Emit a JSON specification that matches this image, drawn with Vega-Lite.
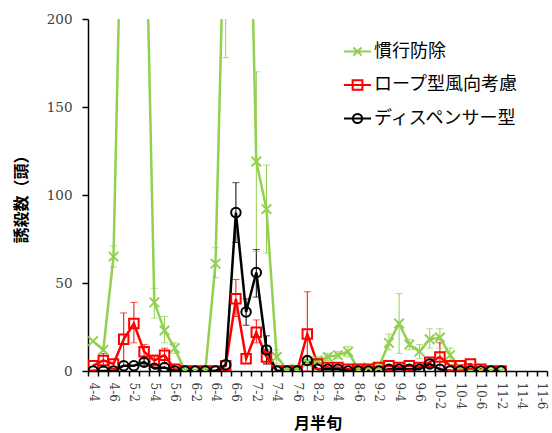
{
  "$schema": "https://vega.github.io/schema/vega-lite/v6.json",
  "width": 459,
  "height": 352,
  "autosize": {"type": "none"},
  "padding": {"left": 88, "top": 19, "right": 5, "bottom": 62},
  "background": "white",
  "config": {
    "view": {"stroke": null},
    "axis": {"grid": false},
    "axisY": {"domainColor": "#000", "domainWidth": 1.5, "tickColor": "#000", "tickSize": 6, "tickWidth": 1.5, "labelFont": "DejaVu Serif", "labelFontSize": 13.5, "labelColor": "#404040", "labelPadding": 10, "titleFont": "Noto Sans CJK JP", "titleFontSize": 16, "titleFontWeight": "bold", "titleColor": "#000", "titlePadding": 17, "tickCount": 4},
    "axisX": {"domainColor": "#000", "domainWidth": 1.5, "tickColor": "#000", "tickSize": 5, "tickWidth": 1.5, "tickBand": "extent", "labelAngle": 90, "labelFont": "DejaVu Serif", "labelFontSize": 12, "labelColor": "#404040", "labelPadding": 6, "titleFont": "Noto Sans CJK JP", "titleFontSize": 16, "titleFontWeight": "bold", "titleColor": "#000", "titlePadding": 7},
    "legend": {"orient": "none", "legendX": 255, "legendY": 18, "title": null, "padding": 0, "symbolSize": 729, "symbolStrokeWidth": 2, "labelFont": "Noto Sans CJK JP", "labelFontSize": 18, "labelColor": "#000", "labelOffset": 2, "rowPadding": 9.5, "labelLimit": 400}
  },
  "data": {"values": [
    {"c": "4-4", "s": "慣行防除", "v": 17},
    {"c": "4-5", "s": "慣行防除", "v": 12},
    {"c": "4-6", "s": "慣行防除", "v": 65, "lo": 59, "hi": 71},
    {"c": "5-1", "s": "慣行防除", "v": 330},
    {"c": "5-2", "s": "慣行防除", "v": 450},
    {"c": "5-3", "s": "慣行防除", "v": 310},
    {"c": "5-4", "s": "慣行防除", "v": 39, "lo": 30, "hi": 47},
    {"c": "5-5", "s": "慣行防除", "v": 23, "lo": 16, "hi": 31},
    {"c": "5-6", "s": "慣行防除", "v": 13, "lo": 10, "hi": 16},
    {"c": "6-1", "s": "慣行防除", "v": 0},
    {"c": "6-2", "s": "慣行防除", "v": 0},
    {"c": "6-3", "s": "慣行防除", "v": 0},
    {"c": "6-4", "s": "慣行防除", "v": 61, "lo": 53, "hi": 70},
    {"c": "6-5", "s": "慣行防除", "v": 293, "lo": 178, "hi": 408},
    {"c": "6-6", "s": "慣行防除", "v": 420},
    {"c": "7-1", "s": "慣行防除", "v": 380},
    {"c": "7-2", "s": "慣行防除", "v": 119, "lo": 68, "hi": 170},
    {"c": "7-3", "s": "慣行防除", "v": 92, "lo": 67, "hi": 117},
    {"c": "7-4", "s": "慣行防除", "v": 8, "lo": 4, "hi": 12},
    {"c": "7-5", "s": "慣行防除", "v": 1},
    {"c": "7-6", "s": "慣行防除", "v": 1},
    {"c": "8-1", "s": "慣行防除", "v": 5},
    {"c": "8-2", "s": "慣行防除", "v": 6, "lo": 4, "hi": 8},
    {"c": "8-3", "s": "慣行防除", "v": 8, "lo": 6, "hi": 10},
    {"c": "8-4", "s": "慣行防除", "v": 9, "lo": 7, "hi": 11},
    {"c": "8-5", "s": "慣行防除", "v": 11, "lo": 8, "hi": 14},
    {"c": "8-6", "s": "慣行防除", "v": 1},
    {"c": "9-1", "s": "慣行防除", "v": 2},
    {"c": "9-2", "s": "慣行防除", "v": 2},
    {"c": "9-3", "s": "慣行防除", "v": 16, "lo": 12, "hi": 21},
    {"c": "9-4", "s": "慣行防除", "v": 27, "lo": 10, "hi": 44},
    {"c": "9-5", "s": "慣行防除", "v": 15, "lo": 12, "hi": 18},
    {"c": "9-6", "s": "慣行防除", "v": 11, "lo": 7, "hi": 15},
    {"c": "10-1", "s": "慣行防除", "v": 18, "lo": 13, "hi": 24},
    {"c": "10-2", "s": "慣行防除", "v": 19, "lo": 13, "hi": 24},
    {"c": "10-3", "s": "慣行防除", "v": 9, "lo": 5, "hi": 13},
    {"c": "10-4", "s": "慣行防除", "v": 1},
    {"c": "10-5", "s": "慣行防除", "v": 1},
    {"c": "10-6", "s": "慣行防除", "v": 0},
    {"c": "11-1", "s": "慣行防除", "v": 0},
    {"c": "11-2", "s": "慣行防除", "v": 0},
    {"c": "4-4", "s": "ロープ型風向考慮", "v": 3},
    {"c": "4-5", "s": "ロープ型風向考慮", "v": 6, "lo": 2, "hi": 10},
    {"c": "4-6", "s": "ロープ型風向考慮", "v": 4},
    {"c": "5-1", "s": "ロープ型風向考慮", "v": 18, "lo": 3, "hi": 33},
    {"c": "5-2", "s": "ロープ型風向考慮", "v": 27, "lo": 16, "hi": 39},
    {"c": "5-3", "s": "ロープ型風向考慮", "v": 11, "lo": 7, "hi": 15},
    {"c": "5-4", "s": "ロープ型風向考慮", "v": 6, "lo": 3, "hi": 9},
    {"c": "5-5", "s": "ロープ型風向考慮", "v": 9, "lo": 4, "hi": 13},
    {"c": "5-6", "s": "ロープ型風向考慮", "v": 1},
    {"c": "6-1", "s": "ロープ型風向考慮", "v": 0},
    {"c": "6-2", "s": "ロープ型風向考慮", "v": 0},
    {"c": "6-3", "s": "ロープ型風向考慮", "v": 0},
    {"c": "6-4", "s": "ロープ型風向考慮", "v": 0},
    {"c": "6-5", "s": "ロープ型風向考慮", "v": 3},
    {"c": "6-6", "s": "ロープ型風向考慮", "v": 41, "lo": 31, "hi": 52},
    {"c": "7-1", "s": "ロープ型風向考慮", "v": 7},
    {"c": "7-2", "s": "ロープ型風向考慮", "v": 22, "lo": 16, "hi": 29},
    {"c": "7-3", "s": "ロープ型風向考慮", "v": 8, "lo": 4, "hi": 12},
    {"c": "7-4", "s": "ロープ型風向考慮", "v": 0},
    {"c": "7-5", "s": "ロープ型風向考慮", "v": 0},
    {"c": "7-6", "s": "ロープ型風向考慮", "v": 0},
    {"c": "8-1", "s": "ロープ型風向考慮", "v": 21, "lo": 0, "hi": 45},
    {"c": "8-2", "s": "ロープ型風向考慮", "v": 4},
    {"c": "8-3", "s": "ロープ型風向考慮", "v": 2},
    {"c": "8-4", "s": "ロープ型風向考慮", "v": 2},
    {"c": "8-5", "s": "ロープ型風向考慮", "v": 1},
    {"c": "8-6", "s": "ロープ型風向考慮", "v": 1},
    {"c": "9-1", "s": "ロープ型風向考慮", "v": 1},
    {"c": "9-2", "s": "ロープ型風向考慮", "v": 2},
    {"c": "9-3", "s": "ロープ型風向考慮", "v": 3},
    {"c": "9-4", "s": "ロープ型風向考慮", "v": 2},
    {"c": "9-5", "s": "ロープ型風向考慮", "v": 3},
    {"c": "9-6", "s": "ロープ型風向考慮", "v": 2},
    {"c": "10-1", "s": "ロープ型風向考慮", "v": 5},
    {"c": "10-2", "s": "ロープ型風向考慮", "v": 8, "lo": 0, "hi": 16},
    {"c": "10-3", "s": "ロープ型風向考慮", "v": 3},
    {"c": "10-4", "s": "ロープ型風向考慮", "v": 3},
    {"c": "10-5", "s": "ロープ型風向考慮", "v": 4},
    {"c": "10-6", "s": "ロープ型風向考慮", "v": 1},
    {"c": "11-1", "s": "ロープ型風向考慮", "v": 0},
    {"c": "11-2", "s": "ロープ型風向考慮", "v": 0},
    {"c": "4-4", "s": "ディスペンサー型", "v": 0},
    {"c": "4-5", "s": "ディスペンサー型", "v": 0},
    {"c": "4-6", "s": "ディスペンサー型", "v": 0},
    {"c": "5-1", "s": "ディスペンサー型", "v": 3},
    {"c": "5-2", "s": "ディスペンサー型", "v": 3},
    {"c": "5-3", "s": "ディスペンサー型", "v": 5, "lo": 3, "hi": 7},
    {"c": "5-4", "s": "ディスペンサー型", "v": 1.5},
    {"c": "5-5", "s": "ディスペンサー型", "v": 2},
    {"c": "5-6", "s": "ディスペンサー型", "v": 0},
    {"c": "6-1", "s": "ディスペンサー型", "v": 0},
    {"c": "6-2", "s": "ディスペンサー型", "v": 0},
    {"c": "6-3", "s": "ディスペンサー型", "v": 0},
    {"c": "6-4", "s": "ディスペンサー型", "v": 0},
    {"c": "6-5", "s": "ディスペンサー型", "v": 3.5},
    {"c": "6-6", "s": "ディスペンサー型", "v": 90, "lo": 73, "hi": 107},
    {"c": "7-1", "s": "ディスペンサー型", "v": 33.5, "lo": 26, "hi": 41},
    {"c": "7-2", "s": "ディスペンサー型", "v": 56, "lo": 42, "hi": 69},
    {"c": "7-3", "s": "ディスペンサー型", "v": 12, "lo": 4, "hi": 20},
    {"c": "7-4", "s": "ディスペンサー型", "v": 0},
    {"c": "7-5", "s": "ディスペンサー型", "v": 0},
    {"c": "7-6", "s": "ディスペンサー型", "v": 0},
    {"c": "8-1", "s": "ディスペンサー型", "v": 6, "lo": 4, "hi": 8},
    {"c": "8-2", "s": "ディスペンサー型", "v": 1},
    {"c": "8-3", "s": "ディスペンサー型", "v": 1},
    {"c": "8-4", "s": "ディスペンサー型", "v": 1},
    {"c": "8-5", "s": "ディスペンサー型", "v": 0},
    {"c": "8-6", "s": "ディスペンサー型", "v": 0},
    {"c": "9-1", "s": "ディスペンサー型", "v": 0},
    {"c": "9-2", "s": "ディスペンサー型", "v": 0},
    {"c": "9-3", "s": "ディスペンサー型", "v": 1},
    {"c": "9-4", "s": "ディスペンサー型", "v": 1},
    {"c": "9-5", "s": "ディスペンサー型", "v": 1},
    {"c": "9-6", "s": "ディスペンサー型", "v": 1},
    {"c": "10-1", "s": "ディスペンサー型", "v": 4},
    {"c": "10-2", "s": "ディスペンサー型", "v": 1},
    {"c": "10-3", "s": "ディスペンサー型", "v": 0},
    {"c": "10-4", "s": "ディスペンサー型", "v": 0},
    {"c": "10-5", "s": "ディスペンサー型", "v": 0},
    {"c": "10-6", "s": "ディスペンサー型", "v": 0},
    {"c": "11-1", "s": "ディスペンサー型", "v": 0},
    {"c": "11-2", "s": "ディスペンサー型", "v": 0}
  ]},
  "encoding": {
    "x": {
      "field": "c", "type": "ordinal", "sort": null, "title": "月半旬",
      "scale": {"type": "band", "paddingInner": 0, "paddingOuter": 0,
        "domain": ["4-4","4-5","4-6","5-1","5-2","5-3","5-4","5-5","5-6","6-1","6-2","6-3","6-4","6-5","6-6","7-1","7-2","7-3","7-4","7-5","7-6","8-1","8-2","8-3","8-4","8-5","8-6","9-1","9-2","9-3","9-4","9-5","9-6","10-1","10-2","10-3","10-4","10-5","10-6","11-1","11-2","11-3","11-4","11-5","11-6"]},
      "axis": {"labelExpr": "toNumber(split(datum.label, '-')[1]) % 2 == 0 ? datum.label : ''"}
    },
    "color": {"field": "s", "type": "nominal", "scale": {"domain": ["慣行防除", "ロープ型風向考慮", "ディスペンサー型"], "range": ["#92D050", "#FF0000", "#000000"]}, "legend": null}
  },
  "resolve": {"scale": {"color": "independent", "shape": "independent"}, "legend": {"color": "independent", "shape": "independent"}},
  "layer": [
    {"mark": {"type": "rule", "strokeWidth": 1, "clip": true},
     "encoding": {"y": {"field": "lo", "type": "quantitative", "title": "誘殺数（頭）", "scale": {"domain": [0, 200]}}, "y2": {"field": "hi"}}},
    {"mark": {"type": "tick", "thickness": 1, "size": 7, "clip": true},
     "encoding": {"y": {"field": "lo", "type": "quantitative", "title": "誘殺数（頭）", "scale": {"domain": [0, 200]}}}},
    {"mark": {"type": "tick", "thickness": 1, "size": 7, "clip": true},
     "encoding": {"y": {"field": "hi", "type": "quantitative", "title": "誘殺数（頭）", "scale": {"domain": [0, 200]}}}},
    {"mark": {"type": "line", "strokeWidth": 2.5, "clip": true},
     "encoding": {"y": {"field": "v", "type": "quantitative", "title": "誘殺数（頭）", "scale": {"domain": [0, 200]}}}},
    {"mark": {"type": "point", "filled": false, "strokeWidth": 2, "size": 90, "opacity": 1, "clip": true},
     "encoding": {
       "y": {"field": "v", "type": "quantitative", "title": "誘殺数（頭）", "scale": {"domain": [0, 200]}},
       "shape": {"field": "s", "type": "nominal", "scale": {"domain": ["慣行防除", "ロープ型風向考慮", "ディスペンサー型"], "range": ["M-1,-1L1,1M-1,1L1,-1", "square", "circle"]}, "legend": null}
     }},
    {"transform": [{"filter": "datum.v > 100000"}],
     "mark": {"type": "point", "filled": false, "strokeWidth": 2, "opacity": 1},
     "encoding": {
       "x": {"field": "c", "type": "ordinal"},
       "color": {"field": "s", "type": "nominal", "scale": {"domain": ["慣行防除", "ロープ型風向考慮", "ディスペンサー型"], "range": ["#92D050", "#FF0000", "#000000"]}, "legend": {}},
       "shape": {"field": "s", "type": "nominal", "scale": {"domain": ["慣行防除", "ロープ型風向考慮", "ディスペンサー型"], "range": ["M-1,0H1M-0.3,-0.3L0.3,0.3M-0.3,0.3L0.3,-0.3", "M-1,0H1M-0.36,-0.36H0.36V0.36H-0.36Z", "M-1,0H1M0.34,0A0.34,0.34,0,1,1,-0.34,0A0.34,0.34,0,1,1,0.34,0"]}, "legend": {}}
     }}
  ]
}
